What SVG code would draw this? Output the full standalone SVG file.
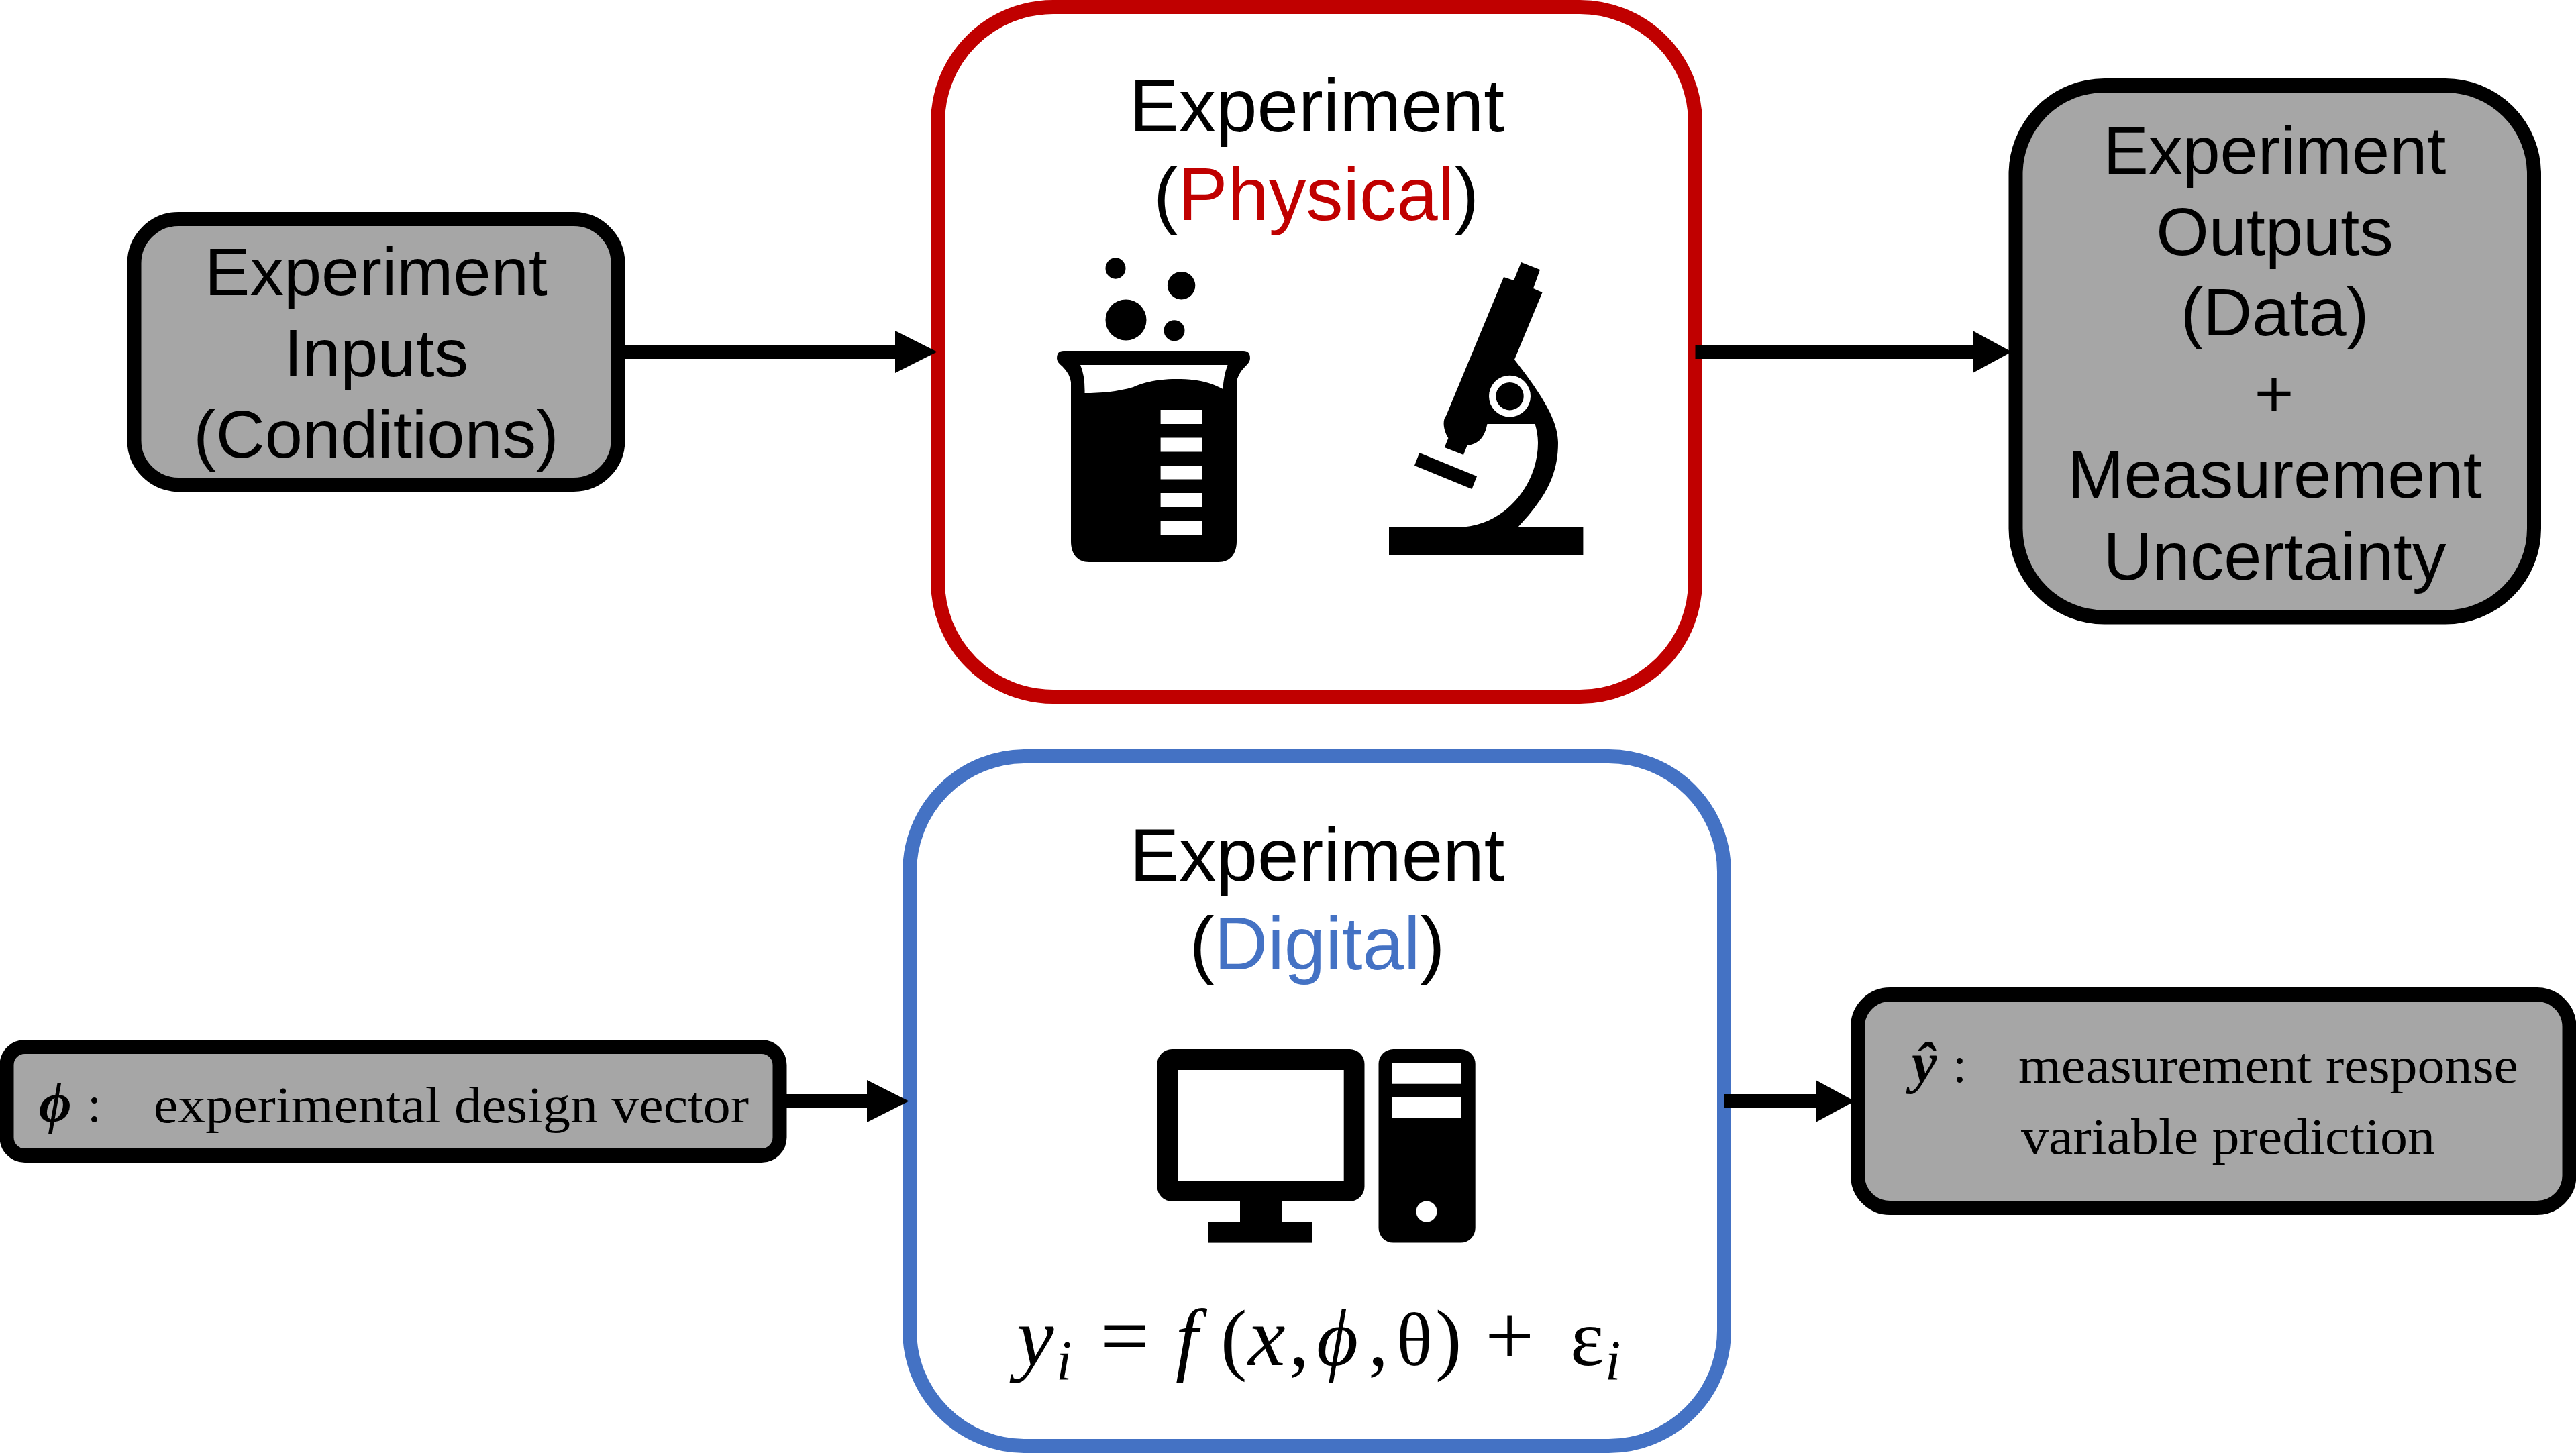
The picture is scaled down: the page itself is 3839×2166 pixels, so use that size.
<svg xmlns="http://www.w3.org/2000/svg" width="3839" height="2166" viewBox="0 0 3839 2166">
<style>
.box{fill:#A6A6A6;stroke:#000;stroke-width:21}
.exp{fill:#fff;stroke-width:21}
.sans{font-family:"Liberation Sans",Arial,sans-serif;font-size:101px;text-anchor:middle;fill:#000}
.big{font-size:110.500px}
.cm{font-family:"Liberation Serif","Times New Roman",serif;font-size:76px;fill:#000}
.mathb{font-family:"Liberation Serif","Times New Roman",serif;font-size:84px;font-style:italic;font-weight:bold;fill:#000}
.eq{font-family:"Liberation Serif","Times New Roman",serif;font-size:112px;fill:#000}
.eqi{font-style:italic;font-size:125px}
.eqf{font-style:italic;font-size:120px}
.eqp{font-size:118px}
.eqo{font-size:120px}
.eqb{font-size:130px}
.sub{font-family:"Liberation Serif","Times New Roman",serif;font-size:84px;font-style:italic;fill:#000}
.conn{stroke:#000;stroke-width:21;fill:none}
</style>
<defs>
<marker id="headA" markerUnits="userSpaceOnUse" markerWidth="63" markerHeight="63" refX="0" refY="31.5" orient="auto"><path d="M0 0L62.500 31.500L0 63Z" fill="#000"/></marker>
<marker id="headB" markerUnits="userSpaceOnUse" markerWidth="58" markerHeight="63" refX="0" refY="31.500" orient="auto"><path d="M0 0L58 31.500L0 63Z" fill="#000"/></marker>
</defs>
<rect width="3839" height="2166" fill="#fff"/>

<g id="experiment-inputs">
<rect class="box" x="200" y="326.500" width="721" height="396" rx="66" ry="66"/>
<text class="sans" x="560.500" y="440">Experiment</text>
<text class="sans" x="560.500" y="561">Inputs</text>
<text class="sans" x="560.500" y="682">(Conditions)</text>
</g>

<g id="experiment-physical">
<rect class="exp" x="1397.500" y="10.500" width="1129" height="1028" rx="172" ry="172" stroke="#C00000"/>
<text class="sans big" x="1962.500" y="196">Experiment</text>
<text class="sans big" x="1961.500" y="328">(<tspan fill="#C00000">Physical</tspan>)</text>
<g id="beaker">
<ellipse cx="1662.500" cy="400" rx="15" ry="15.700"/>
<ellipse cx="1760.600" cy="425.700" rx="20.700" ry="20.700"/>
<ellipse cx="1678" cy="477" rx="30.500" ry="30.500"/>
<ellipse cx="1750" cy="492.700" rx="15.500" ry="15.500"/>
<path d="M1585 523H1853Q1863 523 1863 534Q1863 540 1856 546Q1844 558 1843 570V807C1843 826 1833 838 1816 838H1623C1606 838 1596 826 1596 807V570Q1595 558 1583 546Q1575 540 1575 534Q1575 523 1585 523Z"/>
<path d="M1610 544H1829.500Q1823 562 1822.600 580C1800 568 1780 565 1752.600 565C1720 565 1700 572 1689 577C1665 584 1640 586 1616.500 586Q1617 560 1610 544Z" fill="#fff"/>
<g fill="#fff">
<rect x="1729.600" y="611" width="62" height="21"/>
<rect x="1729.600" y="652.500" width="62" height="21"/>
<rect x="1729.600" y="694" width="62" height="20.500"/>
<rect x="1729.600" y="735" width="62" height="21"/>
<rect x="1729.600" y="776" width="62" height="21"/>
</g>
</g>
<g id="microscope">
<rect x="2070" y="786" width="289.400" height="42"/>
<path d="M2267 391L2295 402L2285 430L2298.500 436L2257 536C2295 585 2322 625 2322 660C2322 712 2300 745 2262 786H2171.600C2240 786 2292 725 2292 660C2292 650 2290 640 2287.600 632H2216.400C2213 650 2205 662 2186.600 664L2181 678L2152.700 667L2158.400 653C2150 640 2150 625 2155 620L2241 413L2256 418Z"/>
<path d="M2115.400 675L2201 710L2193.500 729L2108 694Z"/>
<circle cx="2250" cy="590.700" r="31" fill="#fff"/>
<circle cx="2250" cy="590.700" r="20.700"/>
</g>
</g>

<g id="experiment-outputs">
<rect class="box" x="3004" y="127.500" width="772.500" height="792.500" rx="132" ry="132"/>
<text class="sans" x="3390" y="259">Experiment</text>
<text class="sans" x="3390" y="380">Outputs</text>
<text class="sans" x="3390" y="500">(Data)</text>
<text class="sans" x="3389" y="621">+</text>
<text class="sans" x="3390" y="742">Measurement</text>
<text class="sans" x="3390" y="863.500">Uncertainty</text>
</g>

<g id="experimental-design-vector">
<rect class="box" x="10" y="1560.500" width="1152" height="162" rx="27" ry="27"/>
<text class="mathb" x="58" y="1672">ϕ</text>
<text class="cm" x="130" y="1672">:</text>
<text class="cm" x="229" y="1673" textLength="887" lengthAdjust="spacingAndGlyphs">experimental design vector</text>
</g>

<g id="experiment-digital">
<rect class="exp" x="1355.500" y="1127.500" width="1214" height="1028" rx="172" ry="172" stroke="#4472C4"/>
<text class="sans big" x="1963" y="1312.700">Experiment</text>
<text class="sans big" x="1963" y="1445">(<tspan fill="#4472C4">Digital</tspan>)</text>
<g id="computer">
<rect x="1724.600" y="1564" width="308.900" height="227" rx="22" ry="22"/>
<rect x="1755" y="1595" width="247.700" height="165" fill="#fff"/>
<rect x="1848" y="1791" width="62" height="31"/>
<rect x="1801" y="1822" width="155" height="30.600"/>
<rect x="2054.500" y="1564" width="144.200" height="288.600" rx="22" ry="22"/>
<rect x="2074.600" y="1584.700" width="103.400" height="31" fill="#fff"/>
<rect x="2074.600" y="1636" width="103.400" height="31" fill="#fff"/>
<circle cx="2126" cy="1806" r="15.500" fill="#fff"/>
</g>
<text class="eq" y="2035"><tspan class="eqi" x="1515">y</tspan><tspan class="eqb" x="1640">=</tspan><tspan class="eqf" x="1752">f</tspan><tspan class="eqp" x="1819">(</tspan><tspan class="eqi" x="1860">x</tspan><tspan class="eqo" x="1921">,</tspan><tspan class="eqf" x="1962">ϕ</tspan><tspan class="eqo" x="2039">,</tspan><tspan x="2081">θ</tspan><tspan class="eqp" x="2139">)</tspan><tspan class="eqb" x="2213">+</tspan><tspan class="eqo" x="2340">ε</tspan></text>
<text class="sub" x="1574" y="2057">i</text>
<text class="sub" x="2392" y="2057">i</text>
</g>

<g id="measurement-response">
<rect class="box" x="2768.500" y="1482.500" width="1060.500" height="318" rx="48" ry="48"/>
<text class="mathb" x="2849" y="1613">ŷ</text>
<text class="cm" x="2910" y="1613">:</text>
<text class="cm" x="3008" y="1614" textLength="745" lengthAdjust="spacingAndGlyphs">measurement response</text>
<text class="cm" x="3012" y="1720" textLength="617" lengthAdjust="spacingAndGlyphs">variable prediction</text>
</g>

<g id="connectors">
<line class="conn" x1="931" y1="524.500" x2="1334" y2="524.500" marker-end="url(#headA)"/>
<line class="conn" x1="2526.500" y1="524.500" x2="2940" y2="524.500" marker-end="url(#headB)"/>
<line class="conn" x1="1172" y1="1641.500" x2="1292" y2="1641.500" marker-end="url(#headA)"/>
<line class="conn" x1="2569" y1="1641.500" x2="2706" y2="1641.500" marker-end="url(#headB)"/>
</g>
</svg>
